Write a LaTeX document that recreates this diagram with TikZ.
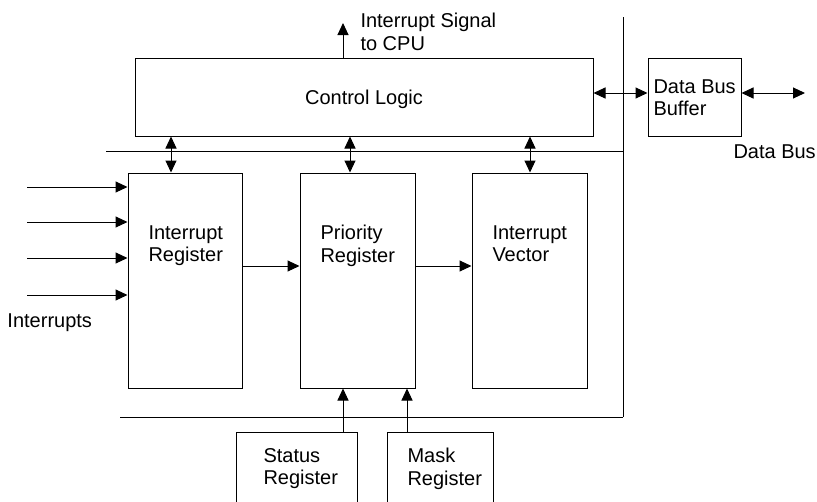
\documentclass[tikz,border=0pt]{standalone}
\usepackage{fontspec}
\setmainfont{Liberation Sans}
\usetikzlibrary{arrows.meta}
\begin{document}
\begin{tikzpicture}[x=1pt,y=-1pt,
  line width=1pt,
  box/.style={draw, rectangle, inner sep=0pt, line width=1pt},
  txt/.style={inner sep=0pt, align=left, font=\fontsize{20}{22.5}\selectfont},
  arr/.style={-{Triangle[length=12pt,width=11pt]}},
  dbl/.style={{Triangle[length=12pt,width=11pt]}-{Triangle[length=12pt,width=11pt]}}]
\useasboundingbox (0,0) rectangle (817,501);
\clip (0,0) rectangle (817,501);
% boxes
\node[box, minimum width=458pt, minimum height=78pt] (cl) at (364,97) {};
\node[box, minimum width=93pt, minimum height=78pt] (dbb) at (694.5,97) {};
\node[box, minimum width=114pt, minimum height=215pt] (ir) at (185,280.5) {};
\node[box, minimum width=115pt, minimum height=215pt] (pr) at (357.5,280.5) {};
\node[box, minimum width=115pt, minimum height=215pt] (iv) at (529.5,280.5) {};
\node[box, minimum width=121pt, minimum height=90pt] (sr) at (296.5,477) {};
\node[box, minimum width=106pt, minimum height=90pt] (mr) at (440,477) {};
% bus lines
\coordinate (vtop) at (623,17);
\coordinate (vbot) at (623,417);
\coordinate (htl) at (106,151);
\coordinate (htr) at (623,151);
\coordinate (hbl) at (120,417);
\draw (vtop) -- (vbot);
\draw (htl) -- (htr);
\draw (hbl) -- (vbot);
% helper coordinates
\coordinate (sig) at (343,23);
\coordinate (y93) at (0,93);
\coordinate (dbend) at (805,93);
\coordinate (x171) at (171,0);
\coordinate (x350) at (350,0);
\coordinate (x530) at (530,0);
\coordinate (x343) at (343,0);
\coordinate (x407) at (407,0);
\coordinate (y266) at (0,266);
\coordinate (in1) at (27,187);
\coordinate (in2) at (27,222);
\coordinate (in3) at (27,258);
\coordinate (in4) at (27,295);
% connectors
\draw[arr] (cl.north -| sig) -- (sig);
\draw[dbl] (cl.south -| x171) -- (ir.north -| x171);
\draw[dbl] (cl.south -| x350) -- (pr.north -| x350);
\draw[dbl] (cl.south -| x530) -- (iv.north -| x530);
\draw[dbl] (cl.east |- y93) -- (dbb.west |- y93);
\draw[dbl] (dbb.east |- y93) -- (dbend);
\draw[arr] (in1) -- (ir.west |- in1);
\draw[arr] (in2) -- (ir.west |- in2);
\draw[arr] (in3) -- (ir.west |- in3);
\draw[arr] (in4) -- (ir.west |- in4);
\draw[arr] (ir.east |- y266) -- (pr.west |- y266);
\draw[arr] (pr.east |- y266) -- (iv.west |- y266);
\draw[arr] (sr.north -| x343) -- (pr.south -| x343);
\draw[arr] (mr.north -| x407) -- (pr.south -| x407);
% texts
\node[txt, anchor=north west] (tsig) at (360,13) {Interrupt Signal\\to CPU};
\node[txt, anchor=base] (tcl) at (364,104) {Control Logic};
\node[txt, anchor=north west] (tdbb) at (653,79) {Data Bus\\Buffer};
\node[txt, anchor=base west] (tdb) at (733,158) {Data Bus};
\node[txt, anchor=north west] (tir) at (148,225) {Interrupt\\Register};
\node[txt, anchor=north west] (tpr) at (320,225) {Priority\\Register};
\node[txt, anchor=north west] (tiv) at (492,225) {Interrupt\\Vector};
\node[txt, anchor=base west] (tint) at (7,327) {Interrupts};
\node[txt, anchor=north west] (tsr) at (263,448) {Status\\Register};
\node[txt, anchor=north west] (tmr) at (407,448) {Mask\\Register};
\end{tikzpicture}
\end{document}
